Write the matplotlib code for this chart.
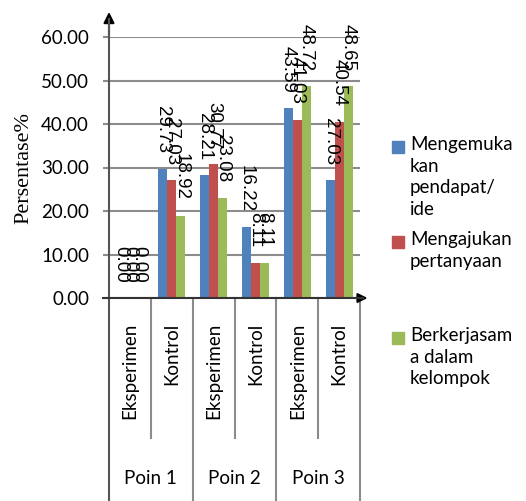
import numpy as np
import matplotlib.pyplot as plt
from matplotlib.patches import Rectangle

# data
categories = ['Eksperimen', 'Kontrol', 'Eksperimen', 'Kontrol', 'Eksperimen', 'Kontrol']
points = ['Poin 1', 'Poin 2', 'Poin 3']
series_names = ['Mengemuka\nkan\npendapat/\nide', 'Mengajukan\npertanyaan', 'Berkerjasam\na dalam\nkelompok']
mengemukakan = [0.00, 29.73, 28.21, 16.22, 43.59, 27.03]
mengajukan = [0.00, 27.03, 30.77, 8.11, 41.03, 40.54]
bekerjasama = [0.00, 18.92, 23.08, 8.11, 48.72, 48.65]
yticks = [0, 10, 20, 30, 40, 50, 60]

colors = ['#4F81BD', '#C0504D', '#9BBB59']
grid_col = '#8c8c8c'

fig = plt.figure(figsize=(5.26, 5.01), dpi=100)
ax = fig.add_axes([109/526, 1 - 298/501, 251/526, 261/501])

x = np.arange(len(categories)) + 0.5
w = 0.215
for i, vals in enumerate([mengemukakan, mengajukan, bekerjasama]):
    xs = x + (i - 1) * w
    ax.bar(xs, vals, width=w, color=colors[i], zorder=3)
    for xx, v in zip(xs, vals):
        ax.annotate('%.2f' % v, (xx, v), xytext=(0, 11), textcoords='offset points',
                    rotation=-90, ha='center', va='bottom', fontsize=13.5,
                    family='Liberation Sans', zorder=5, annotation_clip=False)

ax.set_xlim(0, 6)
ax.set_ylim(0, 60)
ax.set_yticks(yticks)
ax.set_yticklabels(['%.2f' % t for t in yticks], family='Lato', fontsize=13.5)
ax.set_xticks([])
ax.tick_params(axis='y', length=4.3, width=1.5, color=grid_col, pad=10)
ax.yaxis.grid(True, color=grid_col, lw=1.5, zorder=0)
for s in ax.spines.values():
    s.set_visible(False)

ax.set_ylabel('Persentase%', family='Liberation Serif', fontsize=16)
ax.yaxis.set_label_coords(-0.303, 0.5)

xt = ax.get_xaxis_transform()
yt = ax.get_yaxis_transform()

# category table below the axis
for b in range(1, 7):
    bottom = -0.536 if b % 2 == 1 else -0.8
    ax.plot([b, b], [0, bottom], transform=xt, color=grid_col, lw=1.5, clip_on=False)
for xx, c in zip(x, categories):
    ax.text(xx, -0.096, c, transform=xt, rotation=90, ha='center', va='top',
            family='Lato', fontsize=13.5)
for k, p in enumerate(points):
    ax.text(2 * k + 1, -0.69, p, transform=xt, ha='center', va='center',
            family='Lato', fontsize=13.5)

# axes with arrows
ax.plot([0, 0], [-0.8, 1.07], transform=xt, color='#555555', lw=1.5, clip_on=False, zorder=4)
ax.annotate('', xy=(0, 1.096), xytext=(0, 1.0), xycoords=xt, textcoords=xt,
            arrowprops=dict(arrowstyle='-|>', color='black', lw=1.5, mutation_scale=16,
                            shrinkA=0, shrinkB=0), annotation_clip=False)
ax.plot([-0.024, 1.01], [0, 0], transform=yt, color='#333333', lw=1.5, clip_on=False, zorder=4)
ax.annotate('', xy=(1.03, 0), xytext=(0.98, 0), xycoords=yt, textcoords=yt,
            arrowprops=dict(arrowstyle='-|>', color='black', lw=1.5, mutation_scale=14,
                            shrinkA=0, shrinkB=0), annotation_clip=False)

# legend
first_line_y = [147, 242, 338]
for col, name, yy in zip(colors, series_names, first_line_y):
    fig.add_artist(Rectangle((392/526, 1 - (yy + 6)/501), 12/526, 12/501,
                             transform=fig.transFigure, color=col))
    fig.text(410/526, 1 - (yy - 11)/501, name, ha='left', va='top', family='Lato',
             fontsize=13.5, linespacing=1.33)

fig.savefig('out.png', dpi=100)
